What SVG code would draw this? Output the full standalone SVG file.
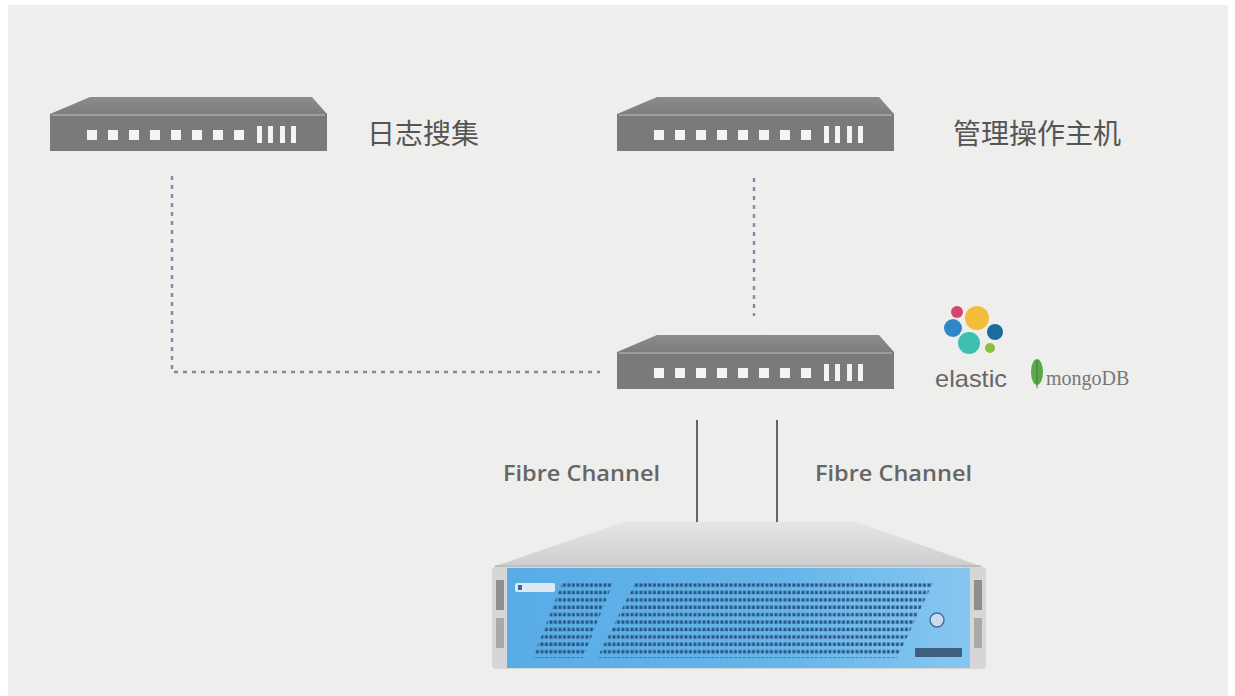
<svg xmlns="http://www.w3.org/2000/svg" width="1235" height="696" viewBox="0 0 1235 696">
  <defs>
    <style>
      .label { font-family: "Noto Sans CJK SC", "Noto Sans", sans-serif; font-size: 28px; fill: #555; }
      .fc { font-family: "Open Sans", "Liberation Sans", sans-serif; font-size: 21px; font-weight: 600; fill: #666; }
      .link { fill: none; stroke: #7a8fa3; stroke-width: 2.4; stroke-dasharray: 4 5; }
      .fibre { stroke: #5c6670; stroke-width: 2; }
    </style>
    <linearGradient id="topFace" x1="0" y1="0" x2="0" y2="1">
      <stop offset="0" stop-color="#8c8c8c"/>
      <stop offset="1" stop-color="#7d7d7d"/>
    </linearGradient>
    <!-- rack switch, 277 x 54 -->
    <g id="switch">
      <polygon points="40,0 262,0 277,17 0,17" fill="url(#topFace)"/>
      <rect x="0" y="17" width="277" height="37" fill="#7a7a7a"/>
      <line x1="2" y1="18" x2="275" y2="18" stroke="#a9a9a9" stroke-width="1.5"/>
      <g fill="#f4f4f4">
        <rect x="37" y="33" width="10" height="10"/>
        <rect x="58" y="33" width="10" height="10"/>
        <rect x="79" y="33" width="10" height="10"/>
        <rect x="100" y="33" width="10" height="10"/>
        <rect x="121" y="33" width="10" height="10"/>
        <rect x="142" y="33" width="10" height="10"/>
        <rect x="163" y="33" width="10" height="10"/>
        <rect x="184" y="33" width="10" height="10"/>
        <rect x="207" y="29" width="5" height="17"/>
        <rect x="218" y="29" width="5" height="17"/>
        <rect x="230" y="29" width="5" height="17"/>
        <rect x="241" y="29" width="5" height="17"/>
      </g>
    </g>
    <linearGradient id="bezel" x1="0" y1="0" x2="1" y2="0">
      <stop offset="0" stop-color="#58ace6"/>
      <stop offset="0.6" stop-color="#66b5ea"/>
      <stop offset="1" stop-color="#86c7f0"/>
    </linearGradient>
    <linearGradient id="lid" x1="0" y1="0" x2="0" y2="1">
      <stop offset="0" stop-color="#e6e6e6"/>
      <stop offset="1" stop-color="#cdcdcd"/>
    </linearGradient>
    <pattern id="grille" x="0" y="583" width="4.5" height="7.4" patternUnits="userSpaceOnUse">
      <rect x="0.4" y="0.4" width="3" height="3.4" fill="#2a5582"/>
    </pattern>
  </defs>

  <!-- page -->
  <rect x="0" y="0" width="1235" height="696" fill="#ffffff"/>
  <rect x="8" y="5" width="1220" height="691" fill="#eeeeed"/>

  <!-- connectors -->
  <g id="connectors">
    <polyline class="link" points="172,176 172,372 600,372"/>
    <line class="link" x1="754" y1="178" x2="754" y2="316"/>
    <line class="fibre" x1="697" y1="420" x2="697" y2="522"/>
    <line class="fibre" x1="777" y1="420" x2="777" y2="522"/>
  </g>

  <!-- log collection switch -->
  <g id="node-log">
    <use href="#switch" transform="translate(50,97)"/>
    <text class="label" x="367" y="144">日志搜集</text>
  </g>

  <!-- management host switch -->
  <g id="node-mgmt">
    <use href="#switch" transform="translate(617,97)"/>
    <text class="label" x="953" y="144">管理操作主机</text>
  </g>

  <!-- core switch -->
  <g id="node-core">
    <use href="#switch" transform="translate(617,335)"/>
  </g>

  <!-- database logos -->
  <g id="node-db">
    <circle cx="957" cy="312" r="6" fill="#d9456f"/>
    <circle cx="977" cy="318" r="12" fill="#f3bd3a"/>
    <circle cx="953" cy="328" r="9" fill="#2e88c6"/>
    <circle cx="995" cy="332" r="8" fill="#1d6b9c"/>
    <circle cx="969" cy="343" r="11" fill="#3cc0b0"/>
    <circle cx="990" cy="348" r="5" fill="#8cbf3f"/>
    <text x="935" y="387" font-family="Liberation Sans, sans-serif" font-size="24" fill="#666" textLength="72" lengthAdjust="spacingAndGlyphs">elastic</text>
    <ellipse cx="1037" cy="372" rx="6" ry="13" fill="#5aa84a"/>
    <line x1="1037" y1="360" x2="1037" y2="388" stroke="#3e7a34" stroke-width="1"/>
    <text x="1046" y="385" font-family="Liberation Serif, serif" font-size="20" fill="#777">mongoDB</text>
  </g>

  <!-- fibre channel labels -->
  <g id="labels-fc">
    <text class="fc" x="503" y="481" textLength="157" lengthAdjust="spacingAndGlyphs">Fibre Channel</text>
    <text class="fc" x="815" y="481" textLength="157" lengthAdjust="spacingAndGlyphs">Fibre Channel</text>
  </g>

  <!-- storage server -->
  <g id="node-storage">
    <polygon points="623,522 857,522 983,567 493,567" fill="url(#lid)"/>
    <line x1="495" y1="566" x2="981" y2="566" stroke="#bdbdbd" stroke-width="2"/>
    <rect x="492" y="567" width="494" height="102" rx="4" fill="#d6d6d6"/>
    <rect x="496" y="580" width="8" height="30" fill="#8e8e8e"/>
    <rect x="974" y="580" width="8" height="30" fill="#8e8e8e"/>
    <rect x="496" y="618" width="8" height="30" fill="#a9a9a9"/>
    <rect x="974" y="618" width="8" height="30" fill="#a9a9a9"/>
    <rect x="507" y="568" width="463" height="100" fill="url(#bezel)"/>
    <polygon points="562,583 613,583 583,658 533,658" fill="url(#grille)"/>
    <polygon points="635,583 933,583 897,658 597,658" fill="url(#grille)"/>
    <rect x="515" y="583" width="40" height="9" rx="2" fill="#dde9f5"/>
    <rect x="518" y="585" width="4" height="5" fill="#3b6ea0"/>
    <circle cx="937" cy="620" r="7" fill="#c8dced" stroke="#44729c" stroke-width="1.5"/>
    <rect x="915" y="648" width="47" height="9" rx="1" fill="#3f5f80"/>
  </g>
</svg>
